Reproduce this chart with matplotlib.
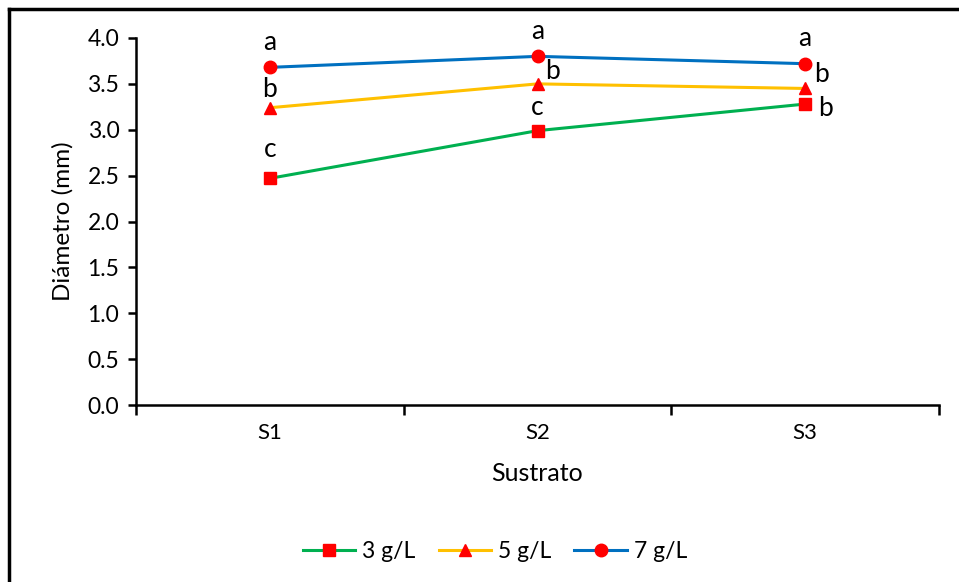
import matplotlib.pyplot as plt
from matplotlib.lines import Line2D
import numpy as np

plt.rcParams['font.family'] = ['Lato', 'DejaVu Sans']

sustratos = ['S1', 'S2', 'S3']
d3 = [2.47, 2.99, 3.28]
d5 = [3.24, 3.50, 3.45]
d7 = [3.68, 3.80, 3.72]
let3 = ['c', 'c', 'b']
let5 = ['b', 'b', 'b']
let7 = ['a', 'a', 'a']

fig = plt.figure(figsize=(9.59, 5.82), dpi=100)
ax = fig.add_axes([136/959, 1-405/582, (939-136)/959, (405-38)/582])

x = np.arange(len(sustratos))
ax.plot(x, d3, color='#00B050', lw=2.2, marker='s', ms=8, mfc='#FF0000', mec='#FF0000', label='3 g/L')
ax.plot(x, d5, color='#FFC000', lw=2.2, marker='^', ms=9, mfc='#FF0000', mec='#FF0000', label='5 g/L')
ax.plot(x, d7, color='#0070C0', lw=2.2, marker='o', ms=9, mfc='#FF0000', mec='#FF0000', label='7 g/L')

# letter positions (offsets in points)
offs7 = [(0, 9), (0, 9), (0, 9)]
offs5 = [(0, 4), (11, 0), (11.5, 1)]
offs3 = [(0, 12), (0, 8), (15, -12)]
for vals, lets, offs in [(d7, let7, offs7), (d5, let5, offs5), (d3, let3, offs3)]:
    for xi, v, l, o in zip(x, vals, lets, offs):
        ax.annotate(l, (xi, v), xytext=o, textcoords='offset points',
                    ha='center', va='bottom', fontsize=19)

ax.set_xlim(-0.5, 2.5)
ax.set_ylim(0, 4.0)
ax.set_yticks(np.arange(0, 4.01, 0.5))
ax.set_yticklabels([f'{v:.1f}' for v in np.arange(0, 4.01, 0.5)])
ax.set_xticks([-0.5, 0.5, 1.5, 2.5])
ax.set_xticklabels([])
ax.set_xticks(x, minor=True)
ax.set_xticklabels(sustratos, minor=True)
ax.tick_params(axis='x', which='major', direction='out', length=7, width=1.8)
ax.tick_params(axis='x', which='minor', length=0, pad=13, labelsize=16)
ax.tick_params(axis='y', direction='out', length=6, width=1.8, labelsize=16.5, pad=6)
for s in ['top', 'right']:
    ax.spines[s].set_visible(False)
for s in ['left', 'bottom']:
    ax.spines[s].set_linewidth(1.8)

ax.set_ylabel('Diámetro (mm)', fontsize=17.5, labelpad=10)
ax.set_xlabel('Sustrato', fontsize=18, labelpad=14)

ax.legend(loc='upper center', bbox_to_anchor=(0.447, -0.315), ncol=3, frameon=False,
          fontsize=16.5, handlelength=2.3, columnspacing=1.0, handletextpad=0.3)

# outer frame (top and left edges visible)
fig.add_artist(Line2D([8.5/959, 1.0], [1-8.5/582, 1-8.5/582], color='black', lw=2.5, transform=fig.transFigure))
fig.add_artist(Line2D([8.5/959, 8.5/959], [0, 1-8.5/582], color='black', lw=2.5, transform=fig.transFigure))

fig.savefig('out.png', dpi=100)
